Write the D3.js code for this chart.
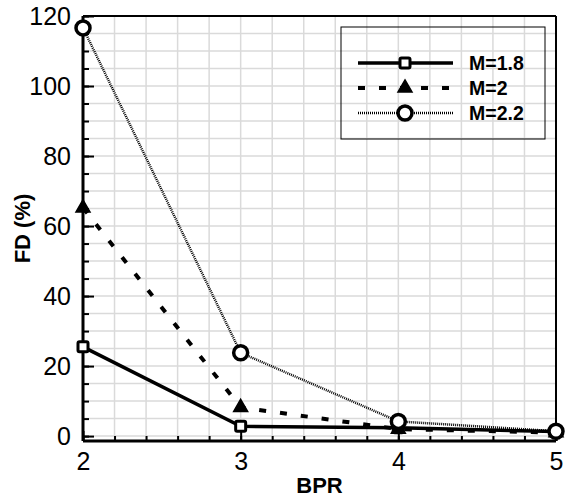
<!DOCTYPE html>
<html>
<head>
<meta charset="utf-8">
<script src="https://cdn.jsdelivr.net/npm/d3@7"></script>
<style>
  html, body { margin: 0; padding: 0; background: #fff; }
  svg { display: block; font-family: "Liberation Sans", Arial, sans-serif; }
  .grid line { stroke: #dadada; stroke-width: 1.5; }
  .axis path { display: none; }
  .axis line { stroke: #000; stroke-width: 2; }
  .axis text { font-size: 25px; fill: #000; }
  .axis-label { font-size: 22px; font-weight: bold; }
  .legend-text { font-size: 19.5px; font-weight: bold; }
</style>
</head>
<body>
<svg id="chart" width="566" height="499"></svg>
<script>
/* ---------- data ---------- */
const bpr = [2, 3, 4, 5];
const seriesNames = ["M=1.8", "M=2", "M=2.2"];
const fdM18 = [25.5, 2.8, 2.4, 1.3];
const fdM20 = [65.2, 8.2, 2.0, 1.0];
const fdM22 = [116.6, 23.8, 4.2, 1.4];
const xMajor = [2, 3, 4, 5];
const yMajor = [0, 20, 40, 60, 80, 100, 120];

/* ---------- layout ---------- */
const svg = d3.select("#chart");
const plot = { left: 83, right: 556, top: 16, bottom: 441 };

const x = d3.scaleLinear().domain([2, 5]).range([plot.left, plot.right]);
const y = d3.scaleLinear().domain([-1.4, 120]).range([plot.bottom, plot.top]);

const xMinor = d3.range(2, 5.0001, 0.2).map(v => +v.toFixed(1));
const yMinor = d3.range(0, 120.001, 5);

/* ---------- grid ---------- */
const grid = svg.append("g").attr("class", "grid");
grid.selectAll("line.v").data(xMinor.filter(v => v > 2 && v < 5)).join("line")
  .attr("class", "v")
  .attr("x1", d => x(d)).attr("x2", d => x(d))
  .attr("y1", plot.top).attr("y2", plot.bottom);
grid.selectAll("line.h").data(yMinor).join("line")
  .attr("class", "h")
  .attr("x1", plot.left).attr("x2", plot.right)
  .attr("y1", d => y(d)).attr("y2", d => y(d));

/* ---------- axes (ticks point inward) ---------- */
svg.append("g").attr("class", "axis")
  .attr("transform", `translate(${plot.left},0)`)
  .call(d3.axisLeft(y).tickValues(yMinor).tickSize(-6).tickFormat(""));
svg.append("g").attr("class", "axis")
  .attr("transform", `translate(${plot.left},0)`)
  .call(d3.axisLeft(y).tickValues(yMajor).tickSize(-11).tickPadding(12).tickFormat(d3.format("d")));

svg.append("g").attr("class", "axis")
  .attr("transform", `translate(0,${plot.bottom})`)
  .call(d3.axisBottom(x).tickValues(xMinor).tickSize(-5).tickFormat(""));
svg.append("g").attr("class", "axis")
  .attr("transform", `translate(0,${plot.bottom})`)
  .call(d3.axisBottom(x).tickValues(xMajor).tickSize(-10).tickPadding(11).tickFormat(d3.format("d")));

// frame
svg.append("line").attr("x1", plot.left).attr("x2", plot.right)
  .attr("y1", plot.top).attr("y2", plot.top).attr("stroke", "#000").attr("stroke-width", 2);
svg.append("line").attr("x1", plot.right).attr("x2", plot.right)
  .attr("y1", plot.top).attr("y2", plot.bottom).attr("stroke", "#000").attr("stroke-width", 2);
svg.append("line").attr("x1", plot.left).attr("x2", plot.left)
  .attr("y1", plot.top).attr("y2", plot.bottom).attr("stroke", "#000").attr("stroke-width", 3);
svg.append("line").attr("x1", plot.left).attr("x2", plot.right)
  .attr("y1", plot.bottom).attr("y2", plot.bottom).attr("stroke", "#000").attr("stroke-width", 3);

/* ---------- axis labels ---------- */
svg.append("text").attr("class", "axis-label")
  .attr("x", (plot.left + plot.right) / 2).attr("y", 493)
  .attr("text-anchor", "middle").text("BPR");
svg.append("text").attr("class", "axis-label")
  .attr("transform", `translate(30,${(plot.top + plot.bottom) / 2}) rotate(-90)`)
  .attr("text-anchor", "middle").text("FD (%)");

/* ---------- series ---------- */
const styles = [
  { width: 3.5, dash: null, marker: "square" },
  { width: 4, dash: "7,14", marker: "triangle" },
  { width: 2.5, dash: "1,1", marker: "circle" }
];
const allSeries = [fdM18, fdM20, fdM22];

const line = d3.line().x((d, i) => x(bpr[i])).y(d => y(d));

function drawMarker(sel, type, cx, cy) {
  if (type === "square") {
    sel.append("rect").attr("x", cx - 5).attr("y", cy - 5)
      .attr("width", 10).attr("height", 10).attr("rx", 1.5)
      .attr("fill", "#fff").attr("stroke", "#000").attr("stroke-width", 3);
  } else if (type === "triangle") {
    sel.append("path")
      .attr("d", d3.symbol().type(d3.symbolTriangle).size(85)())
      .attr("transform", `translate(${cx},${cy})`)
      .attr("fill", "#000").attr("stroke", "#000").attr("stroke-width", 1.5);
  } else {
    sel.append("circle").attr("cx", cx).attr("cy", cy).attr("r", 7)
      .attr("fill", "#fff").attr("stroke", "#000").attr("stroke-width", 3.5);
  }
}

const seriesG = svg.append("g");
allSeries.forEach((vals, k) => {
  const st = styles[k];
  seriesG.append("path").datum(vals)
    .attr("d", line).attr("fill", "none").attr("stroke", "#000")
    .attr("stroke-width", st.width)
    .attr("stroke-dasharray", st.dash);
});
allSeries.forEach((vals, k) => {
  vals.forEach((v, i) => drawMarker(seriesG, styles[k].marker, x(bpr[i]), y(v)));
});

/* ---------- legend ---------- */
const legend = svg.append("g");
legend.append("rect").attr("x", 341).attr("y", 27).attr("width", 204).attr("height", 112)
  .attr("fill", "none").attr("stroke", "#000").attr("stroke-width", 1);
const rowY = [63, 88, 113];
seriesNames.forEach((name, k) => {
  const st = styles[k];
  legend.append("line").attr("x1", 358).attr("x2", 453)
    .attr("y1", rowY[k]).attr("y2", rowY[k])
    .attr("stroke", "#000").attr("stroke-width", st.width)
    .attr("stroke-dasharray", st.dash);
  drawMarker(legend, st.marker, 405, rowY[k]);
  legend.append("text").attr("class", "legend-text")
    .attr("x", 469).attr("y", rowY[k]).attr("dy", "0.36em").text(name);
});
</script>
</body>
</html>
